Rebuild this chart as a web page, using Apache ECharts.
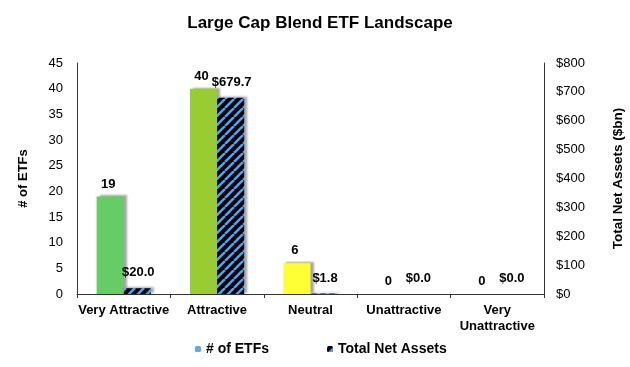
<!DOCTYPE html>
<html><head><meta charset="utf-8">
<script src="https://cdn.jsdelivr.net/npm/echarts@6/dist/echarts.min.js"></script>
<style>html,body{margin:0;padding:0;background:#fff}#c{width:630px;height:367px}</style>
</head><body><div id="c"></div>
<script>
var categories = ['Very Attractive', 'Attractive', 'Neutral', 'Unattractive', 'Very\nUnattractive'];
var etfCounts = [19, 40, 6, 0, 0];
var netAssets = [20.0, 679.7, 1.8, 0.0, 0.0];
var barColors = ['#66CC66', '#99CC33', '#FFFF33', '#FF9933', '#FF3333'];
var leftTicks = {min: 0, max: 45, interval: 5};
var rightTicks = {min: 0, max: 800, interval: 100};

function hatch() {
  var c = document.createElement('canvas');
  c.width = 9; c.height = 9;
  var g = c.getContext('2d');
  g.fillStyle = '#000';
  g.fillRect(0, 0, 9, 9);
  g.strokeStyle = '#4FA3F7';
  g.lineWidth = 2.6;
  for (var k = -9; k <= 18; k += 9) {
    g.beginPath();
    g.moveTo(k, 9);
    g.lineTo(k + 9, 0);
    g.stroke();
  }
  return c;
}
var pat = {image: hatch(), repeat: 'repeat'};
var font = 'Liberation Sans, Arial, sans-serif';
var shadow = {shadowColor: 'rgba(0,0,0,0.35)', shadowBlur: 2, shadowOffsetX: 3, shadowOffsetY: -1};

var chart = echarts.init(document.getElementById('c'), null, {renderer: 'canvas'});
chart.setOption({
  animation: false,
  textStyle: {fontFamily: font},
  title: {text: 'Large Cap Blend ETF Landscape', left: 315, top: 10, textAlign: 'center',
    textStyle: {fontSize: 17, fontWeight: 'bold', color: '#000', fontFamily: font}},
  grid: {left: 77, right: 86, top: 63, bottom: 73, containLabel: false, outerBoundsMode: 'none'},
  legend: {bottom: 6, left: 190, itemGap: 58, itemWidth: 6, itemHeight: 6,
    textStyle: {fontSize: 14, fontWeight: 'bold', color: '#000', fontFamily: font},
    data: ['# of ETFs', 'Total Net Assets']},
  xAxis: {type: 'category', data: categories,
    axisLine: {lineStyle: {color: '#333'}},
    axisTick: {show: true, length: 4, lineStyle: {color: '#333'}},
    axisLabel: {interval: 0, fontSize: 13, fontWeight: 'bold', color: '#000', margin: 8, lineHeight: 16}},
  yAxis: [
    {type: 'value', min: leftTicks.min, max: leftTicks.max, interval: leftTicks.interval,
      name: '# of ETFs', nameLocation: 'middle', nameGap: 47,
      nameTextStyle: {fontSize: 13, fontWeight: 'bold', color: '#000'},
      axisLine: {show: true, lineStyle: {color: '#333'}}, axisTick: {show: false},
      splitLine: {show: false},
      axisLabel: {fontSize: 13, color: '#000', margin: 14}},
    {type: 'value', min: rightTicks.min, max: rightTicks.max, interval: rightTicks.interval,
      name: 'Total Net Assets ($bn)', nameLocation: 'middle', nameGap: 67,
      nameTextStyle: {fontSize: 13.5, fontWeight: 'bold', color: '#000'},
      axisLine: {show: true, lineStyle: {color: '#333'}}, axisTick: {show: false},
      splitLine: {show: false},
      axisLabel: {fontSize: 13, color: '#000', margin: 12, formatter: function (v) { return '$' + v; }}}
  ],
  series: [
    {name: '# of ETFs', type: 'bar', yAxisIndex: 0, barWidth: '29%', barGap: '0%',
      itemStyle: Object.assign({color: '#5FA8F0'}, shadow),
      data: etfCounts.map(function (v, i) { return {value: v, itemStyle: {color: barColors[i]}}; }),
      label: {show: true, position: 'top', distance: 6, fontSize: 13, fontWeight: 'bold', color: '#000',
        offset: [-2, 0]}},
    {name: 'Total Net Assets', type: 'bar', yAxisIndex: 1, barWidth: '29%',
      itemStyle: Object.assign({color: pat}, shadow),
      data: netAssets,
      label: {show: true, position: 'top', distance: 9, fontSize: 13, fontWeight: 'bold', color: '#000',
        offset: [1, 0],
        formatter: function (p) { return '$' + p.value.toFixed(1); }}}
  ]
});
</script></body></html>
